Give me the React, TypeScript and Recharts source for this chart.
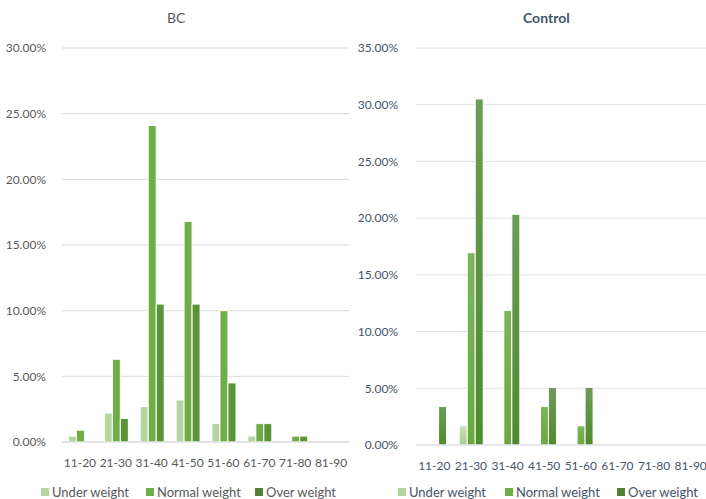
import React from 'react';
import { BarChart, Bar, XAxis, YAxis, CartesianGrid } from 'recharts';

const ageGroups = ['11-20', '21-30', '31-40', '41-50', '51-60', '61-70', '71-80', '81-90'];
const seriesNames = ['Under weight', 'Normal weight', 'Over weight'];

// values in %
const bcUnder = [0.45, 2.2, 2.7, 3.2, 1.4, 0.45, 0, 0];
const bcNormal = [0.9, 6.3, 24.1, 16.8, 10.0, 1.4, 0.45, 0];
const bcOver = [0, 1.8, 10.5, 10.5, 4.5, 1.4, 0.45, 0];

const ctrlUnder = [0, 1.69, 0, 0, 0, 0, 0, 0];
const ctrlNormal = [0, 16.95, 11.86, 3.39, 1.69, 0, 0, 0];
const ctrlOver = [3.39, 30.51, 20.34, 5.08, 5.08, 0, 0, 0];

const bcTicks = [0, 5, 10, 15, 20, 25, 30];
const ctrlTicks = [0, 5, 10, 15, 20, 25, 30, 35];

const bcData = ageGroups.map((g, i) => ({ group: g, under: bcUnder[i], normal: bcNormal[i], over: bcOver[i] }));
const ctrlData = ageGroups.map((g, i) => ({ group: g, under: ctrlUnder[i], normal: ctrlNormal[i], over: ctrlOver[i] }));

const FONT = 'Lato, "Open Sans", sans-serif';
const legendColors = ['#b4d4a0', '#70ad47', '#548235'];

const fmt = (v: number) => `${v.toFixed(2)}%`;

const Legend2 = ({ xs, color }: { xs: number[]; color: string }) => (
  <>
    {seriesNames.map((n, i) => (
      <div key={n} style={{ position: 'absolute', left: xs[i], top: 484, display: 'flex', alignItems: 'center', fontSize: 13, color, fontFamily: FONT, whiteSpace: 'nowrap' }}>
        <span style={{ width: 8, height: 8, background: legendColors[i], marginRight: 3, display: 'inline-block' }} />
        {n}
      </div>
    ))}
  </>
);

export default function App() {
  return (
    <div style={{ position: 'absolute', left: 0, top: 0, width: 706, height: 499, overflow: 'hidden', background: '#fff', fontFamily: FONT }}>
      {/* BC */}
      <div style={{ position: 'absolute', left: 0, top: 0 }}>
        <div style={{ position: 'absolute', left: 0, width: 355, top: 9, textAlign: 'center', paddingLeft: 0, fontSize: 14, color: '#595959' }}>
          <span style={{ position: 'absolute', left: 167 }}>BC</span>
        </div>
        <BarChart width={355} height={499} data={bcData} margin={{ top: 48, right: 6, bottom: 27, left: 0 }} barCategoryGap="18%" barGap={0}>
          <CartesianGrid vertical={false} stroke="#d9d9d9" />
          <XAxis dataKey="group" axisLine={{ stroke: '#d9d9d9' }} tickLine={false} tickMargin={10} height={30} interval={0}
            tick={{ fontSize: 12, fill: '#595959', fontFamily: FONT }} />
          <YAxis domain={[0, 30]} ticks={bcTicks} tickFormatter={fmt} axisLine={false} tickLine={false} width={62} tickMargin={10}
            tick={{ fontSize: 12, fill: '#595959', fontFamily: FONT }} />
          <Bar dataKey="under" fill="#b4d4a0" stroke="#fff" strokeWidth={1} isAnimationActive={false} />
          <Bar dataKey="normal" fill="#70ad47" stroke="#fff" strokeWidth={1} isAnimationActive={false} />
          <Bar dataKey="over" fill="#5b9337" stroke="#fff" strokeWidth={1} isAnimationActive={false} />
        </BarChart>
        <Legend2 xs={[41, 146, 255]} color="#595959" />
      </div>

      {/* Control */}
      <div style={{ position: 'absolute', left: 355, top: 0, width: 360, height: 499 }}>
        <div style={{ position: 'absolute', left: 168, top: 9, fontSize: 14, fontWeight: 700, color: '#44546a' }}>Control</div>
        <BarChart width={360} height={499} data={ctrlData} margin={{ top: 48, right: 6, bottom: 24, left: 0 }} barCategoryGap="18%" barGap={0}>
          <defs>
            <linearGradient id="gU" x1="0" y1="0" x2="0" y2="1">
              <stop offset="0%" stopColor="#c8e0b8" />
              <stop offset="100%" stopColor="#a9cc91" />
            </linearGradient>
            <linearGradient id="gN" x1="0" y1="0" x2="0" y2="1">
              <stop offset="0%" stopColor="#7bb758" />
              <stop offset="100%" stopColor="#6aa83f" />
            </linearGradient>
            <linearGradient id="gO" x1="0" y1="0" x2="0" y2="1">
              <stop offset="0%" stopColor="#6c9c57" />
              <stop offset="100%" stopColor="#4f8a2c" />
            </linearGradient>
          </defs>
          <CartesianGrid vertical={false} stroke="#dde0e8" />
          <XAxis dataKey="group" axisLine={{ stroke: '#dde0e8' }} tickLine={false} tickMargin={10} height={30} interval={0}
            tick={{ fontSize: 12, fill: '#44546a', fontFamily: FONT }} />
          <YAxis domain={[0, 35]} ticks={ctrlTicks} tickFormatter={fmt} axisLine={false} tickLine={false} width={61} tickMargin={12}
            tick={{ fontSize: 12, fill: '#44546a', fontFamily: FONT }} />
          <Bar dataKey="under" fill="url(#gU)" stroke="#fff" strokeWidth={1} isAnimationActive={false} />
          <Bar dataKey="normal" fill="url(#gN)" stroke="#fff" strokeWidth={1} isAnimationActive={false} />
          <Bar dataKey="over" fill="url(#gO)" stroke="#fff" strokeWidth={1} isAnimationActive={false} />
        </BarChart>
        <Legend2 xs={[43, 150, 262]} color="#44546a" />
      </div>
    </div>
  );
}
